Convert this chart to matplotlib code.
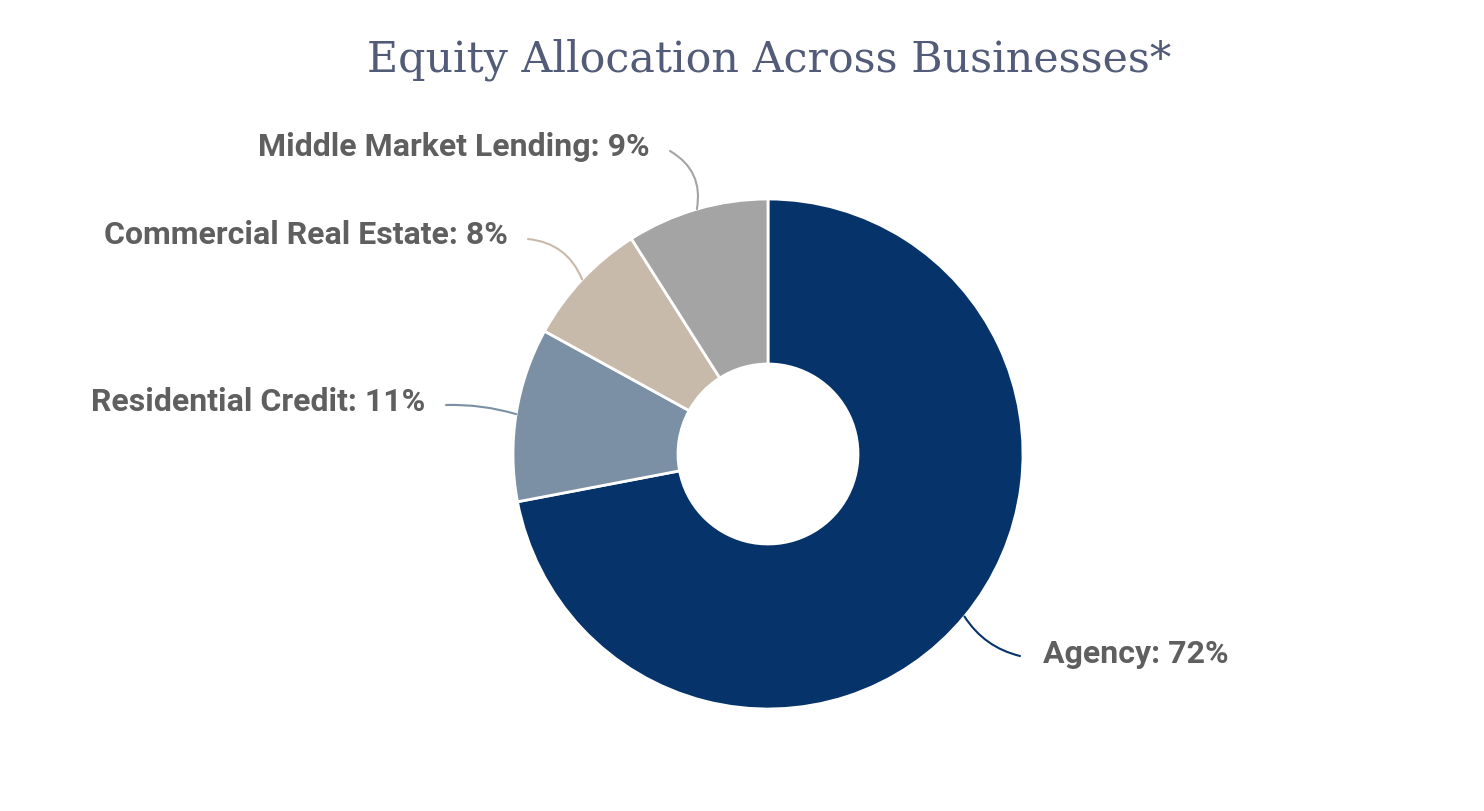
import matplotlib
matplotlib.use("Agg")
import matplotlib.pyplot as plt
import numpy as np

#region data
businesses = ["Agency", "Residential Credit", "Commercial Real Estate", "Middle Market Lending"]
shares = [72, 11, 8, 9]
colors = ["#06336a", "#7b90a4", "#c7baab", "#a4a4a4"]
#endregion

#region layout (pixels)
W, H = 1484, 812
cx, cy, R, r_in = 768, 812 - 455, 255, 90
# label anchor (x, y from top), alignment, leader end (x, y from top), curvature
label_pos = [(1043, 654, "left"), (425, 402, "right"), (508, 235, "right"), (650, 147, "right")]
leader_end = [(1020, 657), (446, 406), (528, 240), (670, 152)]
leader_rad = [-0.2, -0.08, -0.3, -0.35]
#endregion

fig = plt.figure(figsize=(W / 100, H / 100), dpi=100)
ax = fig.add_axes([0, 0, 1, 1])
wedges, _ = ax.pie(shares, colors=colors, startangle=90, counterclock=False,
                   center=(cx, cy), radius=R,
                   wedgeprops=dict(width=R - r_in, edgecolor="white", linewidth=2))
ax.set_xlim(0, W)
ax.set_ylim(0, H)
ax.set_aspect("auto")
ax.axis("off")

for w, name, val, c, (tx, ty, ha), (lx, ly), rad in zip(
        wedges, businesses, shares, colors, label_pos, leader_end, leader_rad):
    mid = np.deg2rad((w.theta1 + w.theta2) / 2)
    px, py = cx + R * np.cos(mid), cy + R * np.sin(mid)
    ax.annotate("", xy=(px, py), xytext=(lx, H - ly),
                arrowprops=dict(arrowstyle="-", color=c, lw=1.5,
                                connectionstyle=f"arc3,rad={rad}",
                                shrinkA=0, shrinkB=0))
    ax.text(tx, H - ty, f"{name}: {val}%", ha=ha, va="center",
            fontsize=23, fontweight="bold", family="Roboto", color="#5f5f5f")

fig.text(769 / W, 1 - 60 / H, "Equity Allocation Across Businesses*",
         ha="center", va="center", fontsize=30.8, family="DejaVu Serif",
         color="#525c78")

fig.savefig("out.png", dpi=100, facecolor="white")
